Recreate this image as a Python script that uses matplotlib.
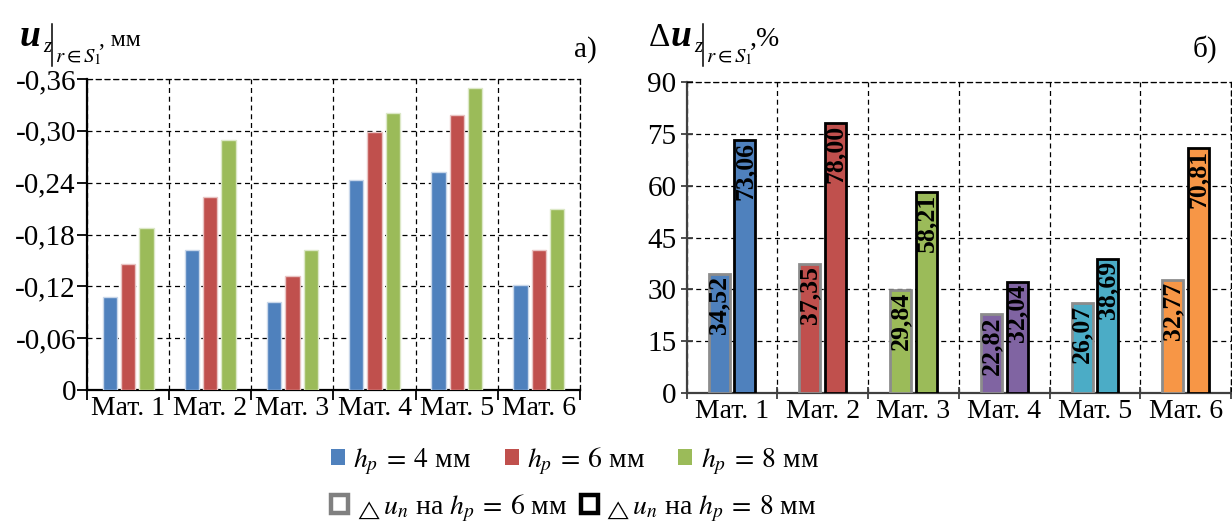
import matplotlib
matplotlib.use("Agg")
import matplotlib.pyplot as plt
import numpy as np
from matplotlib.patches import Patch
from matplotlib.lines import Line2D
from matplotlib.ticker import FixedLocator, FuncFormatter

plt.rcParams['font.family'] = ['Liberation Serif', 'DejaVu Serif']
plt.rcParams['mathtext.fontset'] = 'stix'

# ---- data ----
materials = ['Мат. 1', 'Мат. 2', 'Мат. 3', 'Мат. 4', 'Мат. 5', 'Мат. 6']

# displacement u_z (mm) for three rib heights
uz_h4 = [-0.108, -0.162, -0.102, -0.243, -0.252, -0.122]
uz_h6 = [-0.146, -0.223, -0.132, -0.299, -0.318, -0.162]
uz_h8 = [-0.187, -0.289, -0.162, -0.321, -0.350, -0.209]

# relative change (%) for h_p = 6 mm and h_p = 8 mm
du_h6 = [34.52, 37.35, 29.84, 22.82, 26.07, 32.77]
du_h8 = [73.06, 78.00, 58.21, 32.04, 38.69, 70.81]

left_yticks = [0, -0.06, -0.12, -0.18, -0.24, -0.30, -0.36]
right_yticks = [0, 15, 30, 45, 60, 75, 90]

series_colors = ['#4F81BD', '#C0504D', '#9BBB59']
series_edges = ['#C9D7EA', '#E9C4C3', '#DCE8C7']
mat_colors = ['#4F81BD', '#C0504D', '#9BBB59', '#8064A2', '#4BACC6', '#F79646']

W, H = 1232, 529
fig = plt.figure(figsize=(W / 100, H / 100), dpi=100)


def px(x, y):
    return x / W, 1 - y / H


def comma_fmt(v, _pos=None):
    if abs(v) < 1e-9:
        return '0'
    return f'{v:.2f}'.replace('.', ',')


def style_axes(ax, spine_color, tick_dir):
    n = len(materials)
    ax.set_xlim(-0.5, n - 0.5)
    ax.xaxis.set_major_locator(FixedLocator(np.arange(n)))
    ax.set_xticklabels(materials, fontsize=20)
    ax.xaxis.set_minor_locator(FixedLocator(np.arange(n + 1) - 0.5))
    ax.tick_params(axis='x', which='major', length=0, pad=4)
    ax.tick_params(axis='x', which='minor', length=7 if tick_dir == 'out' else 9,
                   width=1.3, direction=tick_dir, color=spine_color)
    ax.tick_params(axis='y', which='major', length=7 if tick_dir == 'out' else 9,
                   width=1.3, direction=tick_dir, color=spine_color,
                   labelsize=21, pad=1 if tick_dir == 'out' else 3)
    ax.grid(which='minor', axis='x', color='black', linestyle=(0, (4, 3)), linewidth=0.9)
    ax.grid(which='major', axis='y', color='black', linestyle=(0, (4, 3)), linewidth=0.9)
    ax.grid(which='major', axis='x', visible=False)
    ax.set_axisbelow(True)
    for side in ('left', 'bottom'):
        ax.spines[side].set_color(spine_color)
        ax.spines[side].set_linewidth(1.6)
    for side in ('top', 'right'):
        ax.spines[side].set_color('black')
        ax.spines[side].set_linewidth(0.9)
        ax.spines[side].set_linestyle((0, (4, 3)))


# ---- left panel: displacement ----
axL = fig.add_axes([87 / W, 1 - 390 / H, (580 - 87) / W, (390 - 79) / H])
x = np.arange(len(materials))
bw, step = 0.174, 0.223
for k, (vals, c, e) in enumerate(zip([uz_h4, uz_h6, uz_h8], series_colors, series_edges)):
    axL.bar(x + (k - 1) * step, vals, width=bw, color=c, edgecolor=e, linewidth=1.0, zorder=3)
axL.set_ylim(0, -0.36)
axL.yaxis.set_major_locator(FixedLocator(left_yticks))
axL.yaxis.set_major_formatter(FuncFormatter(comma_fmt))
style_axes(axL, 'black', 'out')

# ---- right panel: relative change ----
axR = fig.add_axes([686.7 / W, 1 - 393.3 / H, (1231 - 686.7) / W, (393.3 - 81.7) / H])
bw2, off2 = 0.232, 0.142
axR.bar(x - off2, du_h6, width=bw2, color=mat_colors, edgecolor='#8C8C8C', linewidth=2.0, zorder=3)
axR.bar(x + off2, du_h8, width=bw2, color=mat_colors, edgecolor='black', linewidth=2.0, zorder=3)
for xi, v6, v8 in zip(x, du_h6, du_h8):
    for xx, v in ((xi - off2, v6), (xi + off2, v8)):
        axR.annotate(f'{v:.2f}'.replace('.', ','), xy=(xx, v), xytext=(0, -2),
                     textcoords='offset pixels', rotation=90, ha='center', va='top',
                     fontsize=18.5, fontweight='bold', zorder=5)
axR.set_ylim(0, 90)
axR.yaxis.set_major_locator(FixedLocator(right_yticks))
axR.yaxis.set_major_formatter(FuncFormatter(lambda v, p: f'{int(v)}'))
style_axes(axR, '#404040', 'inout')

# ---- axis titles ----
def title_block(x0, with_delta, tail, tail_size):
    xu = x0
    if with_delta:
        fig.text(*px(x0, 46), 'Δ', fontsize=24, va='baseline', ha='left')
        xu = x0 + 22
    fig.text(*px(xu, 46), 'u', fontsize=27, style='italic', fontweight='bold',
             va='baseline', ha='left')
    fig.text(*px(xu + 23, 52), 'z', fontsize=15, style='italic', va='baseline', ha='left')
    xb = xu + 32
    fig.add_artist(Line2D([xb / W, xb / W], [1 - 24 / H, 1 - 66 / H],
                          color='black', linewidth=1.1))
    fig.text(*px(xb + 3, 62), r'$r\in S_1$', fontsize=15, va='baseline', ha='left')
    fig.text(*px(xb + 47, 46), tail, fontsize=tail_size, va='baseline', ha='left')


title_block(20, False, ', мм', 17)
title_block(649, True, ',%', 20)
fig.text(*px(597, 57), 'а)', fontsize=21, va='baseline', ha='right')
fig.text(*px(1217, 57), 'б)', fontsize=21, va='baseline', ha='right')

# ---- legends ----
h_handles = [Patch(facecolor=c, edgecolor='none') for c in series_colors]
h_labels = [r'$h_p\:=\:4$ мм', r'$h_p\:=\:6$ мм', r'$h_p\:=\:8$ мм']
fig.legend(h_handles, h_labels, loc='center', bbox_to_anchor=px(575, 461), ncol=3,
           frameon=False, fontsize=20, handlelength=0.5, handleheight=0.5,
           handletextpad=0.3, columnspacing=1.2, borderpad=0)

d_handles = [Patch(facecolor='white', edgecolor='#808080', linewidth=3.2),
             Patch(facecolor='white', edgecolor='black', linewidth=3.2)]
d_labels = [r'${}_{\triangle}u_n$ на $h_p\:=\:6$ мм', r'${}_{\triangle}u_n$ на $h_p\:=\:8$ мм']
fig.legend(d_handles, d_labels, loc='center', bbox_to_anchor=px(574, 508), ncol=2,
           frameon=False, fontsize=20, handlelength=0.6, handleheight=0.6,
           handletextpad=0.2, columnspacing=0.5, borderpad=0)

fig.savefig('out.png', dpi=100)
